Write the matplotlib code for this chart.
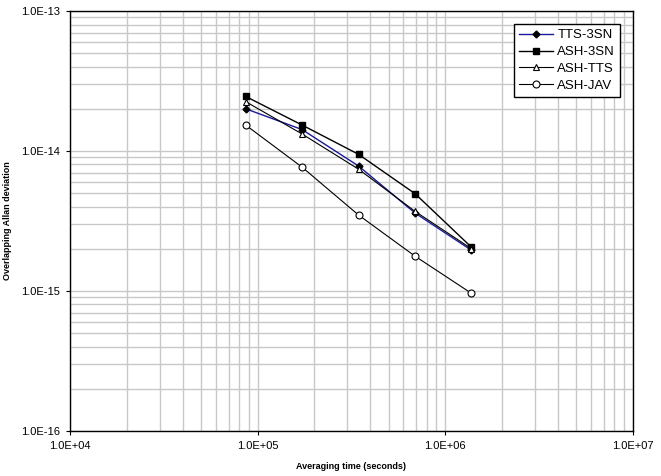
import matplotlib.pyplot as plt
from matplotlib.ticker import FixedLocator, NullFormatter

plt.rcParams['font.family'] = ['Liberation Sans', 'DejaVu Sans']

tau = [86400, 172800, 345600, 691200, 1382400]
tts_3sn = [2.0e-14, 1.42e-14, 7.8e-15, 3.6e-15, 1.95e-15]
ash_3sn = [2.45e-14, 1.53e-14, 9.45e-15, 4.95e-15, 2.05e-15]
ash_tts = [2.25e-14, 1.32e-14, 7.4e-15, 3.7e-15, 2.0e-15]
ash_jav = [1.53e-14, 7.65e-15, 3.48e-15, 1.77e-15, 9.6e-16]

x_major = [1e4, 1e5, 1e6, 1e7]
y_major = [1e-16, 1e-15, 1e-14, 1e-13]
x_labels = ['1.0E+04', '1.0E+05', '1.0E+06', '1.0E+07']
y_labels = ['1.0E-16', '1.0E-15', '1.0E-14', '1.0E-13']

fig = plt.figure(figsize=(6.61, 4.76), dpi=100)
ax = fig.add_axes([0.106, 0.095, 0.851, 0.882])

ax.plot(tau, tts_3sn, color='#1a1a9c', lw=1, marker='D', ms=3.5,
        mfc='black', mec='black', label='TTS-3SN')
ax.plot(tau, ash_3sn, color='black', lw=1, marker='s', ms=4.5,
        mfc='black', mec='black', label='ASH-3SN')
ax.plot(tau, ash_tts, color='black', lw=0.8, marker='^', ms=4.5,
        mfc='white', mec='black', mew=0.8, label='ASH-TTS')
ax.plot(tau, ash_jav, color='black', lw=0.8, marker='o', ms=5,
        mfc='white', mec='black', mew=0.8, label='ASH-JAV')

ax.set_xscale('log')
ax.set_yscale('log')
ax.set_xlim(1e4, 1e7)
ax.set_ylim(1e-16, 1e-13)

x_minor = [m * d for d in x_major[:-1] for m in range(2, 10)]
y_minor = [m * d for d in y_major[:-1] for m in range(2, 10)]
ax.set_xticks(x_major, x_labels)
ax.set_yticks(y_major, y_labels)
ax.xaxis.set_minor_locator(FixedLocator(x_minor))
ax.yaxis.set_minor_locator(FixedLocator(y_minor))
ax.xaxis.set_minor_formatter(NullFormatter())
ax.yaxis.set_minor_formatter(NullFormatter())

ax.grid(True, which='both', color='#c8c8c8', lw=1)
ax.set_axisbelow(True)
ax.tick_params(which='major', length=3, labelsize=8, pad=4)
ax.tick_params(which='minor', length=0)
for s in ax.spines.values():
    s.set_color('black')
    s.set_linewidth(1)

ax.set_xlabel('Averaging time (seconds)', fontsize=6.5, fontweight='bold', labelpad=8)
ax.set_ylabel('Overlapping Allan deviation', fontsize=6.5, fontweight='bold', labelpad=7)

leg = ax.legend(loc='upper right', bbox_to_anchor=(0.99, 0.985),
                frameon=True, fancybox=False, framealpha=1, edgecolor='black',
                handlelength=2.6, handletextpad=0.3, borderpad=0.4, labelspacing=0.35,
                prop={'family': ['Liberation Sans Narrow', 'Liberation Sans'], 'size': 9.5})
leg.get_frame().set_linewidth(1)

fig.savefig('out.png', dpi=100)
